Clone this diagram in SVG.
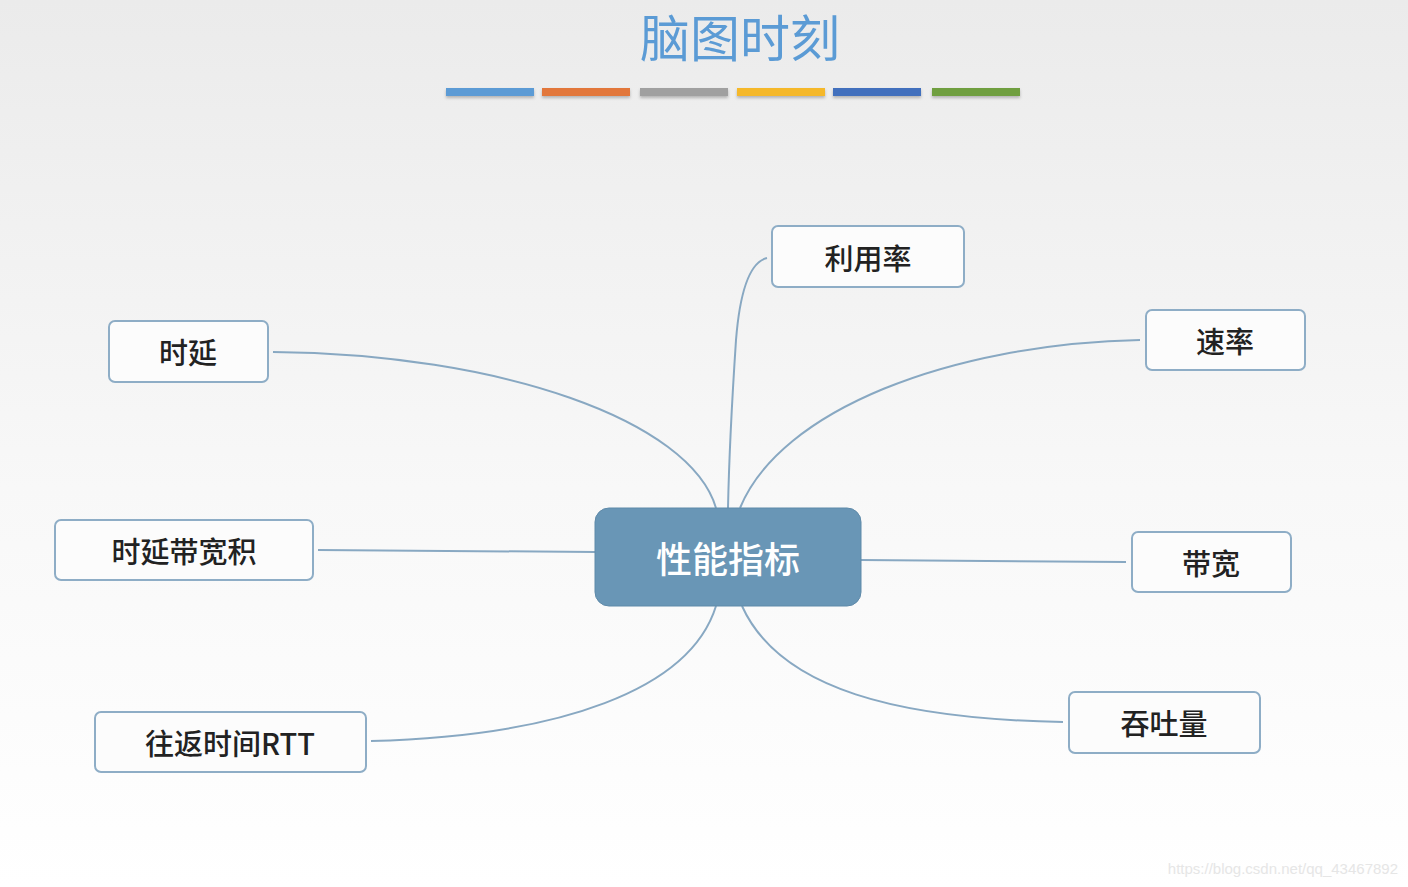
<svg xmlns="http://www.w3.org/2000/svg" width="1408" height="887" viewBox="0 0 1408 887">
<defs>
<linearGradient id="bg" x1="0" y1="0" x2="0" y2="1">
<stop offset="0" stop-color="#ebebeb"/>
<stop offset="0.55" stop-color="#f8f8f8"/>
<stop offset="1" stop-color="#ffffff"/>
</linearGradient>
<filter id="sh" x="-10%" y="-50%" width="120%" height="250%"><feDropShadow dx="0" dy="2" stdDeviation="1.5" flood-color="#000" flood-opacity="0.25"/></filter>
</defs>
<style>
.box{fill:#fcfcfc;stroke:#8eadc6;stroke-width:2}
.lbl{font-family:"Noto Sans CJK SC","Noto Sans",sans-serif;font-size:29px;fill:#222;text-anchor:middle;dominant-baseline:central;font-weight:500}
.conn path{fill:none;stroke:#88a8c2;stroke-width:2}
</style>
<rect width="1408" height="887" fill="url(#bg)"/>
<text x="740" y="57" font-family="Noto Sans CJK SC, sans-serif" font-size="50" fill="#5b9bd5" text-anchor="middle" font-weight="400">脑图时刻</text>
<g filter="url(#sh)">
<rect x="446" y="88" width="88" height="8" fill="#5b9bd5"/>
<rect x="542" y="88" width="88" height="8" fill="#e2773a"/>
<rect x="640" y="88" width="88" height="8" fill="#a0a0a0"/>
<rect x="737" y="88" width="88" height="8" fill="#f5b82c"/>
<rect x="833" y="88" width="88" height="8" fill="#4270bd"/>
<rect x="932" y="88" width="88" height="8" fill="#6f9f40"/>
</g>
<g class="conn">
<path d="M273,352 C500,354 690,420 716,508"/>
<path d="M767,258 C750,262 740,290 736,340 C732,400 729,460 728,508"/>
<path d="M1140,340 C950,344 780,410 740,508"/>
<path d="M318,550 L595,552"/>
<path d="M861,560 L1126,562"/>
<path d="M371,741 C560,736 690,690 716,606"/>
<path d="M1063,722 C900,719 780,690 742,606"/>
</g>
<g id="center">
<rect x="595" y="508" width="266" height="98" rx="14" fill="#6996b6" stroke="#5f8aa9" stroke-width="1"/>
<text x="728" y="557" font-family="Noto Sans CJK SC, sans-serif" font-size="36" fill="#ffffff" text-anchor="middle" dominant-baseline="central" font-weight="500">性能指标</text>
</g>
<g id="n-util"><rect class="box" x="772" y="226" width="192" height="61" rx="6"/><text class="lbl" x="868" y="257">利用率</text></g>
<g id="n-rate"><rect class="box" x="1146" y="310" width="159" height="60" rx="6"/><text class="lbl" x="1225" y="340">速率</text></g>
<g id="n-delay"><rect class="box" x="109" y="321" width="159" height="61" rx="6"/><text class="lbl" x="188" y="351">时延</text></g>
<g id="n-dbp"><rect class="box" x="55" y="520" width="258" height="60" rx="6"/><text class="lbl" x="184" y="550">时延带宽积</text></g>
<g id="n-bw"><rect class="box" x="1132" y="532" width="159" height="60" rx="6"/><text class="lbl" x="1211" y="562">带宽</text></g>
<g id="n-rtt"><rect class="box" x="95" y="712" width="271" height="60" rx="6"/><text class="lbl" x="230" y="742">往返时间RTT</text></g>
<g id="n-tp"><rect class="box" x="1069" y="692" width="191" height="61" rx="6"/><text class="lbl" x="1164" y="722">吞吐量</text></g>
<text x="1398" y="874" font-family="Liberation Sans, sans-serif" font-size="15" fill="#e6e6e6" text-anchor="end">https://blog.csdn.net/qq_43467892</text>
</svg>
